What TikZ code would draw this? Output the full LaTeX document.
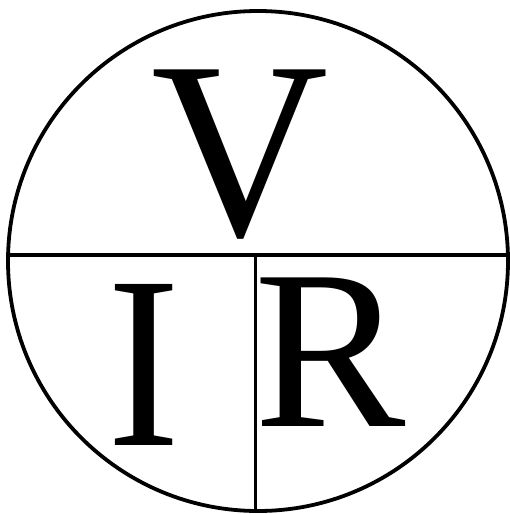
\documentclass[tikz,border=0pt]{standalone}
\usepackage{fontspec}
\setmainfont{Liberation Serif}
\begin{document}
\begin{tikzpicture}[x=1pt,y=-1pt,
  rule/.style={line width=3.8pt,black},
  letter/.style={inner sep=0pt,outer sep=0pt,anchor=center}]
\useasboundingbox (0,0) rectangle (510,514);
\node[draw,circle,line width=3.8pt,minimum size=500pt,inner sep=0pt] (c) at (258,261) {};
\coordinate (hl) at (8,255);
\coordinate (hr) at (508,255);
\coordinate (vt) at (255.5,255);
\coordinate (vb) at (255.5,511);
\draw[rule] (hl) -- (hr);
\draw[rule] (vt) -- (vb);
\node[letter,font=\fontsize{253}{253}\selectfont] (V) at (240.5,155) {\scalebox{0.97}[1]{V}};
\node[letter,font=\fontsize{246}{246}\selectfont] (I) at (143.5,364.5) {\scalebox{0.89}[1]{I}};
\node[letter,font=\fontsize{227}{227}\selectfont] (R) at (330,352) {R};
\end{tikzpicture}
\end{document}
